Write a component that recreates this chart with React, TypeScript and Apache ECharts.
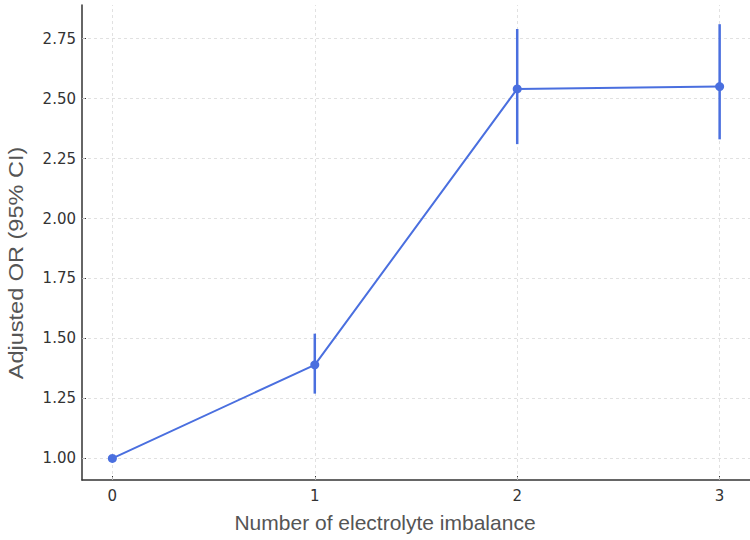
import React, { useEffect, useRef } from "react";
import * as echarts from "echarts";

const counts = [0, 1, 2, 3];
const oddsRatio = [1.0, 1.39, 2.54, 2.55];
const ciLower = [1.0, 1.27, 2.31, 2.33];
const ciUpper = [1.0, 1.52, 2.79, 2.81];
const yTicks = [1.0, 1.25, 1.5, 1.75, 2.0, 2.25, 2.5, 2.75];
const xTicks = [0, 1, 2, 3];
const xTitle = "Number of electrolyte imbalance";
const yTitle = "Adjusted OR (95% CI)";

const BLUE = "#4a6fdf";
const FONT = "DejaVu Sans";
const TITLE_FONT = "Liberation Sans";

export default function App() {
  const ref = useRef<HTMLDivElement>(null);
  useEffect(() => {
    if (!ref.current) return;
    const chart = echarts.init(ref.current, null, { renderer: "svg" });
    const lineData = counts.map((c, i) => [c, oddsRatio[i]]);
    const errData = counts.map((c, i) => [c, ciLower[i], ciUpper[i]]);
    chart.setOption({
      animation: false,
      backgroundColor: "#ffffff",
      grid: { left: 82, right: 0, top: 5, bottom: 60, containLabel: false },
      graphic: [
        {
          type: "text",
          x: 385,
          y: 522,
          style: {
            text: xTitle,
            font: `21px "${TITLE_FONT}"`,
            fill: "#555555",
            align: "center",
            verticalAlign: "middle",
          },
        },
        {
          type: "text",
          x: 16,
          y: 263,
          rotation: Math.PI / 2,
          scaleX: 1.12,
          style: {
            text: yTitle,
            font: `21px "${TITLE_FONT}"`,
            fill: "#555555",
            align: "center",
            verticalAlign: "middle",
          },
        },
      ],
      xAxis: {
        type: "value",
        min: -0.15,
        max: 3.15,
        axisLine: { show: true, onZero: false, lineStyle: { color: "#333333", width: 1.5 } },
        axisTick: { show: true, inside: true, length: 4, customValues: xTicks, lineStyle: { color: "#333333" } },
        axisLabel: { customValues: xTicks, fontFamily: FONT, fontSize: 15, color: "#333333", margin: 8 },
        splitLine: { show: false },
      },
      yAxis: {
        type: "value",
        min: 0.91,
        max: 2.89,
        axisLine: { show: true, onZero: false, lineStyle: { color: "#333333", width: 1.5 } },
        axisTick: { show: true, inside: true, length: 4, customValues: yTicks, lineStyle: { color: "#333333" } },
        axisLabel: {
          customValues: yTicks,
          fontFamily: FONT,
          fontSize: 15,
          color: "#333333",
          margin: 6,
          formatter: (v: number) => v.toFixed(2),
        },
        splitLine: { show: false },
      },
      series: [
        {
          type: "line",
          data: lineData,
          symbol: "circle",
          symbolSize: 9,
          itemStyle: { color: BLUE },
          lineStyle: { color: BLUE, width: 2 },
          z: 3,
          markLine: {
            silent: true,
            symbol: "none",
            label: { show: false },
            lineStyle: { color: "#d9d9d9", type: [3, 3], width: 0.8 },
            data: [
              ...yTicks.map((v) => ({ yAxis: v })),
              ...xTicks.map((v) => ({ xAxis: v })),
            ],
            z: 1,
          },
        },
        {
          type: "custom",
          data: errData,
          z: 2,
          renderItem: (params: any, api: any) => {
            const x = api.value(0);
            const p1 = api.coord([x, api.value(1)]);
            const p2 = api.coord([x, api.value(2)]);
            return {
              type: "line",
              shape: { x1: p1[0], y1: p1[1], x2: p2[0], y2: p2[1] },
              style: { stroke: BLUE, lineWidth: 2.5 },
            };
          },
        },
      ],
    });
    return () => chart.dispose();
  }, []);
  return <div ref={ref} style={{ width: 750, height: 540, position: "absolute", left: 0, top: 0 }} />;
}
